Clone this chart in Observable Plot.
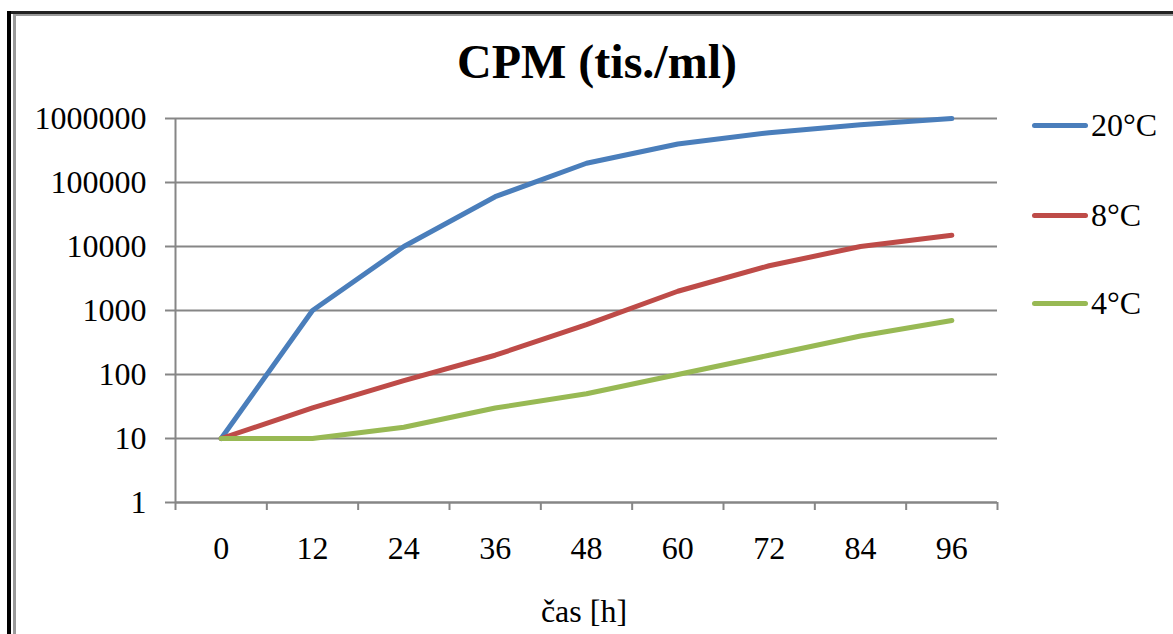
<!DOCTYPE html>
<html>
<head>
<meta charset="utf-8">
<script src="https://cdn.jsdelivr.net/npm/d3@7"></script>
<script src="https://cdn.jsdelivr.net/npm/@observablehq/plot@0.6"></script>
<style>
  html, body { margin: 0; padding: 0; background: #fff; }
  #wrap { position: relative; width: 1173px; height: 634px; overflow: hidden; font-family: "Liberation Serif", "Times New Roman", serif; }
  #chart { position: absolute; left: 0; top: 0; }
  .frameL1 { position: absolute; left: 7px; top: 11px; width: 4px; height: 640px; background: #000; }
  .frameL2 { position: absolute; left: 13px; top: 14px; width: 3px; height: 640px; background: #9a9a9a; }
  .frameT1 { position: absolute; left: 7px; top: 11px; width: 1180px; height: 3px; background: #222; }
  .frameT2 { position: absolute; left: 13px; top: 14px; width: 1180px; height: 2px; background: #9a9a9a; }
  #title { position: absolute; left: 0; width: 1194px; top: 38px; text-align: center; font-weight: bold; font-size: 48px; line-height: 1; color: #000; }
  #xlabel { position: absolute; left: 0; width: 1168px; top: 595px; text-align: center; font-size: 32px; line-height: 1; color: #000; }
  #legend { position: absolute; left: 1032px; top: 0; }
  .item { position: absolute; left: 0; display: flex; align-items: center; font-size: 32px; line-height: 1; white-space: nowrap; }
  .swatch { width: 56px; height: 5px; border-radius: 3px; margin-right: 3px; }
</style>
</head>
<body>
<div id="wrap">
  <div id="chart"></div>
  <div class="frameT1"></div><div class="frameT2"></div>
  <div class="frameL1"></div><div class="frameL2"></div>
  <div id="title"></div>
  <div id="xlabel"></div>
  <div id="legend"></div>
</div>
<script>
const titleText = "CPM (tis./ml)";
const xLabel = "čas [h]";
const hours = [0, 12, 24, 36, 48, 60, 72, 84, 96];
const seriesNames = ["20°C", "8°C", "4°C"];
const cpm20 = [10, 1000, 10000, 60000, 200000, 400000, 600000, 800000, 1000000];
const cpm8 = [10, 30, 80, 200, 600, 2000, 5000, 10000, 15000];
const cpm4 = [10, 10, 15, 30, 50, 100, 200, 400, 700];
const colors = ["#4a7ebb", "#be4b48", "#98b954"];
const yTicks = [1, 10, 100, 1000, 10000, 100000, 1000000];

const seriesValues = [cpm20, cpm8, cpm4];
const data = [];
seriesNames.forEach((s, i) => hours.forEach((h, j) => data.push({s, h, v: seriesValues[i][j]})));

const step = hours[1] - hours[0];
const x0 = hours[0] - step / 2, x1 = hours[hours.length - 1] + step / 2;
const boundaries = d3.range(hours.length + 1).map(i => x0 + i * step);
const gridColor = "#868686";

const chart = Plot.plot({
  width: 1173, height: 634,
  marginLeft: 175, marginRight: 176, marginTop: 118, marginBottom: 132,
  style: {fontFamily: "'Liberation Serif', serif", fontSize: "32px", color: "#000", background: "transparent", overflow: "visible"},
  x: {type: "linear", domain: [x0, x1]},
  y: {type: "log", domain: [yTicks[0], yTicks[yTicks.length - 1]]},
  color: {domain: seriesNames, range: colors},
  marks: [
    Plot.gridY({ticks: yTicks, stroke: gridColor, strokeOpacity: 1, strokeWidth: 2}),
    Plot.axisY({ticks: yTicks, tickSize: 10, tickPadding: 19, stroke: gridColor, strokeWidth: 2, tickFormat: d => String(d), label: null}),
    Plot.axisX({ticks: boundaries, tickSize: 8, tickFormat: () => "", stroke: gridColor, strokeWidth: 2, label: null}),
    Plot.axisX({ticks: hours, tickSize: 0, tickPadding: 34, tickFormat: d => String(d), label: null}),
    Plot.ruleX([x0], {stroke: gridColor, strokeWidth: 2}),
    Plot.ruleY([yTicks[0]], {stroke: gridColor, strokeWidth: 2}),
    Plot.line(data, {x: "h", y: "v", z: "s", stroke: "s", strokeWidth: 5, strokeLinecap: "round", strokeLinejoin: "round"})
  ]
});
document.getElementById("chart").appendChild(chart);
document.getElementById("title").textContent = titleText;
document.getElementById("xlabel").textContent = xLabel;

const legendTops = [125, 215, 303];
const legend = document.getElementById("legend");
seriesNames.forEach((s, i) => {
  const item = document.createElement("div");
  item.className = "item";
  item.style.top = (legendTops[i] - 16) + "px";
  item.style.height = "32px";
  const sw = document.createElement("div");
  sw.className = "swatch";
  sw.style.background = colors[i];
  const t = document.createElement("span");
  t.textContent = s;
  item.appendChild(sw); item.appendChild(t);
  legend.appendChild(item);
});
</script>
</body>
</html>
